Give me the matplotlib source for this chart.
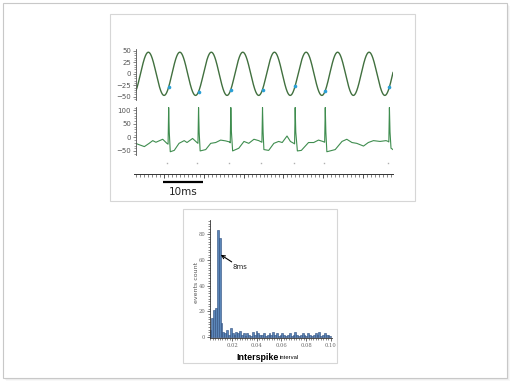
import numpy as np
import matplotlib
matplotlib.use("Agg")
import matplotlib.pyplot as plt
from matplotlib.patches import Rectangle
from matplotlib.ticker import MultipleLocator, FixedLocator
from matplotlib.transforms import blended_transform_factory

# ---------------- data ----------------
# stimulus sine: extrema times (ms) and values
sine_ext_t = [-0.85, 3.1, 7.05, 11.0, 14.95, 18.9, 22.85, 26.8, 30.8, 34.75,
              38.7, 42.7, 46.65, 50.6, 54.55, 58.5, 62.45, 66.4]
sine_ext_v = [-47, 47, -47, 47, -47, 47, -47, 47, -47, 47,
              -47, 47, -47, 47, -47, 47, -47, 47]

# spike times (ms)
spike_t = [8.2, 15.7, 23.8, 31.75, 39.95, 47.5, 63.6]
raster_t = [7.8, 15.3, 23.4, 31.35, 39.55, 47.1, 63.2]

# membrane voltage trace (ms, mV)
vtrace_t = [0, 0.4, 2.1, 3.3, 4.2, 5.0, 6.7, 7.75, 8.05, 8.2, 8.35, 8.6, 9.6,
            10.8, 12.1, 12.8, 14.2, 15.3, 15.55, 15.7, 15.85, 16.1, 17.5,
            18.75, 20.0, 21.25, 22.5, 23.5, 23.65, 23.8, 23.95, 24.25, 25.8,
            27.1, 28.3, 29.6, 30.8, 31.6, 31.75, 31.9, 32.1, 33.3,
            34.6, 35.8, 36.7, 37.9, 38.75, 39.6, 39.8, 39.95, 40.1, 40.5, 41.5,
            43.3, 44.6, 45.8, 46.9, 47.35, 47.5, 47.65, 47.9, 50.0,
            51.7, 52.9, 54.2, 55.4, 57.1, 58.3, 59.6, 61.25, 62.75, 63.3, 63.45,
            63.6, 63.75, 64.0, 64.5]
vtrace_v = [-22, -25, -34, -22, -12, -18, -7, -22, -25, 110, 20, -53, -48,
            -22, -12, -19, -4, -19, -22, 110, 20, -50, -45,
            -22, -19, -10, -13, -17, -20, 110, 20, -50, -40,
            -15, -22, -7, -12, -18, 110, 20, -45, -48,
            -22, -15, -19, 5, -15, -22, -24, 110, 20, -50, -48,
            -19, -19, -10, -15, -18, 110, 20, -53, -45,
            -15, -7, -19, -22, -32, -19, -12, -15, -12, -15, -17,
            110, 20, -40, -45]

# interspike-interval histogram
isi_bin_width = 0.0015
isi_bin_start = 0.0015
isi_counts = [6, 15, 21, 23, 83, 77, 11, 4, 3, 6, 2, 7, 3, 2, 4, 3, 5, 2, 3, 1,
              3, 2, 1, 4, 2, 5, 3, 2, 2, 3, 1, 2, 3, 2, 4, 2, 3, 1, 2, 3,
              2, 1, 2, 3, 1, 2, 4, 2, 1, 2, 3, 2, 1, 3, 2, 1, 2, 3, 2, 4,
              1, 2, 3, 2, 2, 1]
isi_xticks = [0.02, 0.04, 0.06, 0.08, 0.10]
isi_xticklabels = ["0.02", "0.04", "0.06", "0.08", "0.10"]
isi_yticks = [0, 20, 40, 60, 80]

# ---------------- figure ----------------
W, H = 512, 384
fig = plt.figure(figsize=(5.12, 3.84), dpi=100)
fig.patch.set_facecolor('white')


def rect(x0, y0, x1, y1):
    return [x0 / W, 1 - y1 / H, (x1 - x0) / W, (y1 - y0) / H]


def frect(x0, y0, x1, y1, **kw):
    r = Rectangle((x0 / W, 1 - y1 / H), (x1 - x0) / W, (y1 - y0) / H,
                  transform=fig.transFigure, **kw)
    fig.add_artist(r)
    return r


# slide shadow + frame
for i, a in enumerate([0.10, 0.08, 0.05]):
    d = i + 1
    frect(3 + d, 3 + d, 507 + d, 378 + d, facecolor='#808080', alpha=a,
          edgecolor='none', zorder=-3)
frect(3, 3, 507, 378, facecolor='white', edgecolor='#c8c8c8', lw=0.8, zorder=-2)

# panels
frect(110, 14, 415, 201, facecolor='white', edgecolor='#d6d6d6', lw=0.8, zorder=-1)
frect(183, 209, 337, 363, facecolor='white', edgecolor='#d6d6d6', lw=0.8, zorder=-1)

tick_col = '#555555'


def style_left(ax):
    for s in ['top', 'right', 'bottom']:
        ax.spines[s].set_visible(False)
    ax.spines['left'].set_color(tick_col)
    ax.spines['left'].set_linewidth(0.6)
    ax.set_xticks([])
    ax.tick_params(axis='y', which='major', length=2.5, width=0.5, colors=tick_col,
                   labelsize=5, pad=1)
    ax.tick_params(axis='y', which='minor', length=1.5, width=0.4, colors=tick_col)
    ax.patch.set_alpha(0)
    ax.set_zorder(2)


# sine stimulus
ax1 = fig.add_axes(rect(136, 49, 393, 100))
tt = np.linspace(0, 64.5, 2000)
vv = np.zeros_like(tt)
for k in range(len(sine_ext_t) - 1):
    ta, tb = sine_ext_t[k], sine_ext_t[k + 1]
    va, vb = sine_ext_v[k], sine_ext_v[k + 1]
    m = (tt >= ta) & (tt <= tb)
    vv[m] = va + (vb - va) * (1 - np.cos(np.pi * (tt[m] - ta) / (tb - ta))) / 2
ax1.plot(tt, vv, color='#41703f', lw=1.0)
dot_v = np.interp(spike_t, tt, vv)
ax1.plot(spike_t, dot_v, 'o', color='#2a9fd6', ms=2.6, mec='none')
ax1.set_xlim(0, 64.5)
ax1.set_ylim(-57, 54)
ax1.set_yticks([50, 25, 0, -25, -50])
ax1.yaxis.set_minor_locator(MultipleLocator(5))
style_left(ax1)

# voltage trace
ax2 = fig.add_axes(rect(136, 107, 393, 155))
ax2.plot(vtrace_t, vtrace_v, color='#3f8d4f', lw=0.8)
ax2.set_xlim(0, 64.5)
ax2.set_ylim(-65, 112)
ax2.set_yticks([100, 50, 0, -50])
ax2.yaxis.set_minor_locator(MultipleLocator(10))
style_left(ax2)

# raster dots
trb = blended_transform_factory(ax2.transData, fig.transFigure)
ax2.plot(raster_t, [1 - 163 / H] * len(raster_t), 's', color='#b0b0b0', ms=1.0,
         mec='none', transform=trb, clip_on=False)

# time axis
ax3 = fig.add_axes(rect(134, 168, 393, 174))
ax3.set_zorder(2)
ax3.set_xlim(-0.5, 64.5)
for s in ['top', 'right', 'left']:
    ax3.spines[s].set_visible(False)
ax3.spines['bottom'].set_color('#333333')
ax3.spines['bottom'].set_linewidth(0.7)
ax3.set_yticks([])
ax3.xaxis.set_major_locator(FixedLocator([7, 17, 27, 37, 47, 57]))
ax3.xaxis.set_minor_locator(MultipleLocator(1))
ax3.tick_params(axis='x', which='major', length=3, width=0.6, colors='#333333',
                labelbottom=False)
ax3.tick_params(axis='x', which='minor', length=2, width=0.5, colors='#555555')
ax3.patch.set_alpha(0)

# scale bar
tr3 = blended_transform_factory(ax3.transData, fig.transFigure)
ax3.plot([6.8, 16.8], [1 - 182 / H] * 2, color='black', lw=1.6,
         transform=tr3, clip_on=False, solid_capstyle='butt')
ax3.text(11.8, 1 - 192 / H, "10ms", transform=tr3, ha='center', va='center',
         fontsize=7.5, color='#222222')

# histogram
ax4 = fig.add_axes(rect(210, 220, 332, 338.3))
ax4.set_zorder(2)
lefts = [isi_bin_start + i * isi_bin_width for i in range(len(isi_counts))]
ax4.bar(lefts, isi_counts, width=isi_bin_width, align='edge', color='#5b86b8',
        edgecolor='#2d4c7c', lw=0.4)
ax4.set_xlim(0.00187, 0.1011)
ax4.set_ylim(-0.8, 91)
for s in ['top', 'right']:
    ax4.spines[s].set_visible(False)
for s in ['left', 'bottom']:
    ax4.spines[s].set_color('#333333')
    ax4.spines[s].set_linewidth(0.6)
ax4.set_xticks(isi_xticks)
ax4.set_xticklabels(isi_xticklabels)
ax4.set_yticks(isi_yticks)
ax4.xaxis.set_minor_locator(MultipleLocator(0.002))
ax4.yaxis.set_minor_locator(MultipleLocator(2))
ax4.tick_params(which='major', length=2, width=0.5, colors='#333333', labelsize=3.8,
                labelcolor='#666666', pad=1.5)
ax4.tick_params(which='minor', length=1.2, width=0.4, colors='#333333')
for lab in ax4.get_xticklabels() + ax4.get_yticklabels():
    lab.set_family('DejaVu Serif')
ax4.patch.set_alpha(0)

ax4.annotate('', xy=(0.0106, 64), xytext=(0.0195, 58.5),
             arrowprops=dict(arrowstyle='->', color='black', lw=0.8,
                             shrinkA=0, shrinkB=0, mutation_scale=6))
ax4.text(0.0205, 54.8, "8ms", fontsize=5, ha='left', va='center', color='#222222')

fig.text(196 / W, 1 - 282 / H, "events count", rotation=90, ha='center',
         va='center', fontsize=4.5, color='#555555')
fig.text(236 / W, 1 - 357 / H, "Interspike", ha='left', va='center',
         fontsize=6.4, fontweight='bold', color='black', family='Liberation Sans')
fig.text(279.5 / W, 1 - 357.5 / H, "interval", ha='left', va='center',
         fontsize=4.2, color='black', family='Liberation Sans')

fig.savefig('out.png', dpi=100, facecolor='white')
